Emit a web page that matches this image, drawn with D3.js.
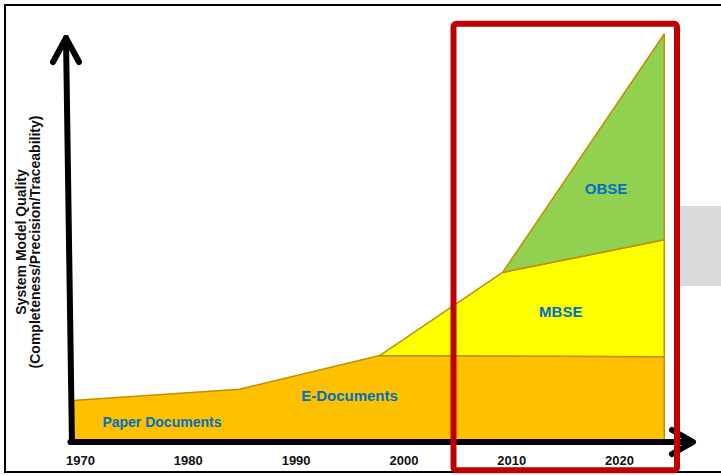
<!DOCTYPE html>
<html>
<head>
<meta charset="utf-8">
<script src="https://cdn.jsdelivr.net/npm/d3@7"></script>
<style>
  html, body { margin: 0; padding: 0; background: #fff; }
  svg { display: block; }
  text { font-family: "Liberation Sans", Arial, sans-serif; }
</style>
</head>
<body>
<svg id="chart" width="721" height="475"></svg>
<script>
'use strict';
(() => {
// years where the outline bends
const years = [1969.3, 1984.8, 1997.8, 2009.2, 2024.2];
// thickness of each layer (quality units, 0..100)
const documents = [9.7, 12.5, 20.8, 20.67, 20.5];
const mbse = [0, 0, 0, 20.6, 28.8];
const obse = [0, 0, 0, 0, 50.7];
const tickYears = [1970, 1980, 1990, 2000, 2010, 2020];

const layers = ['documents', 'mbse', 'obse'];
const layerStart = { documents: 0, mbse: 2, obse: 3 };
const fills = { documents: '#FFC000', mbse: '#FFFF00', obse: '#92D050' };

const labels = [
  { text: 'Paper Documents', year: 1977.6, value: 3.2, size: 14 },
  { text: 'E-Documents', year: 1995.0, value: 9.5, size: 15 },
  { text: 'MBSE', year: 2014.6, value: 30.2, size: 15 },
  { text: 'OBSE', year: 2018.8, value: 60.6, size: 15 }
];

const rows = years.map((year, i) => ({
  year, documents: documents[i], mbse: mbse[i], obse: obse[i], i
}));

const svg = d3.select('#chart');
const x = d3.scaleLinear().domain([1970, 2020]).range([80, 619]);
const y = d3.scaleLinear().domain([0, 100]).range([440, 34]);

// outer frame
svg.append('rect')
  .attr('x', 5).attr('y', 5).attr('width', 730).attr('height', 467)
  .attr('fill', 'none').attr('stroke', '#000').attr('stroke-width', 2);

// grey block on the right
svg.append('rect')
  .attr('x', 680).attr('y', 206).attr('width', 45).attr('height', 80)
  .attr('fill', '#D9D9D9');

const stacked = d3.stack().keys(layers)(rows);

const area = d3.area()
  .x(d => x(d.data.year))
  .y0(d => y(d[0]))
  .y1(d => y(d[1]));

svg.append('g').selectAll('path')
  .data(stacked)
  .join('path')
    .attr('d', s => area.defined(d => d.data.i >= layerStart[s.key])(s))
    .attr('fill', s => fills[s.key])
    .attr('stroke', '#BF8F00')
    .attr('stroke-width', 1.5)
    .attr('stroke-linejoin', 'round');

// axes drawn as thick arrows
const x0 = x(years[0]);
const axes = svg.append('g')
  .attr('stroke', '#000').attr('stroke-width', 6)
  .attr('stroke-linecap', 'round').attr('stroke-linejoin', 'round')
  .attr('fill', 'none');
axes.append('line')
  .attr('x1', x0 - 0.5).attr('y1', y(0) + 2).attr('x2', 66).attr('y2', 38);
axes.append('path').attr('d', 'M53,62L66,38L79,62');
axes.append('line')
  .attr('x1', x0 - 2).attr('y1', y(0) + 2).attr('x2', 692).attr('y2', y(0) + 2);
axes.append('path').attr('d', `M672,${y(0) - 10}L693,${y(0) + 2}L672,${y(0) + 14}`);

// year labels
svg.append('g')
  .attr('transform', 'translate(0,456)')
  .call(d3.axisBottom(x).tickValues(tickYears).tickFormat(d3.format('d'))
    .tickSize(0).tickPadding(0))
  .call(g => g.select('.domain').remove())
  .selectAll('text')
    .attr('fill', '#111')
    .attr('font-size', 13)
    .attr('font-weight', 'bold')
    .style('font-family', '"Liberation Sans", Arial, sans-serif');

// layer names
svg.append('g').selectAll('text')
  .data(labels)
  .join('text')
    .attr('x', d => x(d.year))
    .attr('y', d => y(d.value))
    .attr('text-anchor', 'middle')
    .attr('font-size', d => d.size)
    .attr('font-weight', 'bold')
    .attr('fill', '#0070C0')
    .text(d => d.text);

// y axis title
const title = svg.append('text')
  .attr('transform', 'translate(26,242) rotate(-90)')
  .attr('text-anchor', 'middle')
  .attr('font-size', 14)
  .attr('font-weight', 'bold')
  .attr('fill', '#111');
title.append('tspan').attr('x', 0).attr('dy', 0).text('System Model Quality');
title.append('tspan').attr('x', 0).attr('dy', 14).text('(Completeness/Precision/Traceability)');

// red highlight box
svg.append('rect')
  .attr('x', 453.5).attr('y', 23.7).attr('width', 223.5).attr('height', 446.6)
  .attr('rx', 3)
  .attr('fill', 'none').attr('stroke', '#C00000').attr('stroke-width', 6);
})();
</script>
</body>
</html>
